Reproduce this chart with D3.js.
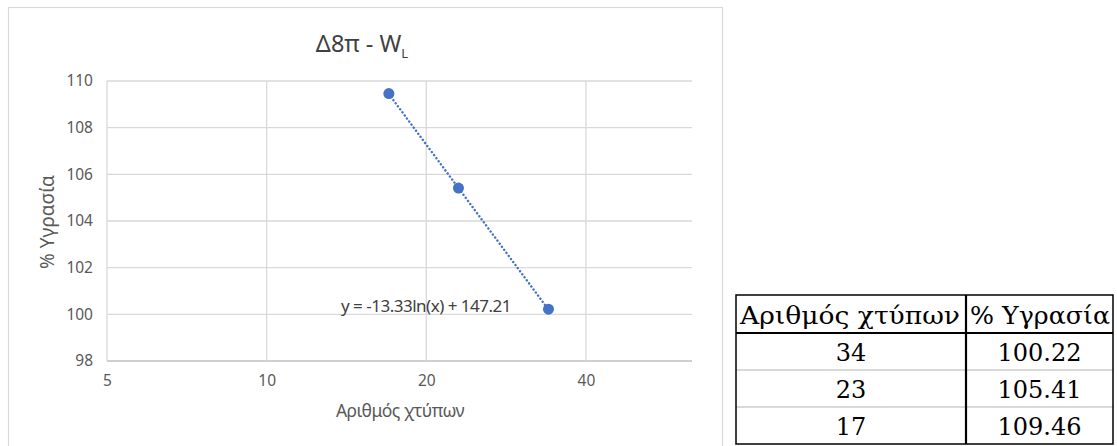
<!DOCTYPE html>
<html lang="el">
<head>
<meta charset="utf-8">
<title>Δ8π - WL</title>
<script src="https://d3js.org/d3.v7.min.js"></script>
<style>
  body { margin: 0; background: #fff; }
  svg text { font-family: "Noto Sans", "DejaVu Sans", sans-serif; }
  .tbl text { font-family: "DejaVu Serif", "Liberation Serif", serif; }
</style>
</head>
<body>
<script>
// data
var blows = [34, 23, 17];
var moisture = [100.22, 105.41, 109.46];
var xTicks = [5, 10, 20, 40];
var yTicks = [98, 100, 102, 104, 106, 108, 110];
var trendCoef = [-13.33, 147.21];   // y = a ln(x) + b
var tableHeader = ["Αριθμός χτύπων", "% Υγρασία"];

var W = 1117, H = 446;
var svg = d3.select("body").append("svg").attr("width", W).attr("height", H);

// chart frame
svg.append("rect")
  .attr("x", 8.5).attr("y", 7.5).attr("width", 714).attr("height", 450)
  .attr("fill", "#fff").attr("stroke", "#d9d9d9").attr("stroke-width", 1.2);

var x = d3.scaleLog().base(2).domain([5, 63.4]).range([107, 692]);
var y = d3.scaleLinear().domain([98, 110]).range([361, 81]);

// gridlines
svg.append("g").selectAll("line").data(yTicks).join("line")
  .attr("x1", x.range()[0]).attr("x2", x.range()[1])
  .attr("y1", d => y(d)).attr("y2", d => y(d))
  .attr("stroke", d => d === 98 ? "#bfbfbf" : "#d9d9d9").attr("stroke-width", 1.3);
svg.append("g").selectAll("line").data(xTicks).join("line")
  .attr("x1", d => x(d)).attr("x2", d => x(d))
  .attr("y1", y(110)).attr("y2", y(98))
  .attr("stroke", "#d9d9d9").attr("stroke-width", 1.3);

// axes labels
var yAxis = d3.axisLeft(y).tickValues(yTicks).tickSize(0).tickPadding(14);
var gy = svg.append("g").attr("transform", `translate(${x.range()[0]},0)`).call(yAxis);
var xAxis = d3.axisBottom(x).tickValues(xTicks).tickFormat(d3.format("d")).tickSize(0).tickPadding(14);
var gx = svg.append("g").attr("transform", `translate(0,${y(98)})`).call(xAxis);
[gx, gy].forEach(g => {
  g.select(".domain").remove();
  g.selectAll("text").attr("fill", "#595959").style("font-size", "15.5px")
    .style("font-family", '"Noto Sans", sans-serif');
});

// titles
var title = svg.append("text").attr("x", 362).attr("y", 52)
  .attr("text-anchor", "middle").attr("fill", "#404040").style("font-size", "23.5px");
title.append("tspan").text("Δ8π - W");
title.append("tspan").attr("dy", 6).style("font-size", "13px").text("L");

svg.append("text").attr("x", 400).attr("y", 417).attr("text-anchor", "middle")
  .attr("fill", "#595959").style("font-size", "17.5px").style("letter-spacing", "-0.5px")
  .text("Αριθμός χτύπων");
svg.append("text").attr("transform", "translate(54,222) rotate(-90)")
  .attr("text-anchor", "middle").attr("fill", "#595959").style("font-size", "19px")
  .text("% Υγρασία");

// trendline
var xs = d3.extent(blows);
var samples = d3.range(0, 41).map(i => xs[0] * Math.pow(xs[1] / xs[0], i / 40));
var line = d3.line().x(d => x(d)).y(d => y(trendCoef[0] * Math.log(d) + trendCoef[1]));
svg.append("path").datum(samples).attr("d", line)
  .attr("fill", "none").attr("stroke", "#4472c4").attr("stroke-width", 2.4)
  .attr("stroke-linecap", "round").attr("stroke-dasharray", "0.1 3.7");

svg.append("text").attr("x", 341).attr("y", 312).attr("fill", "#404040")
  .style("font-size", "17px").style("letter-spacing", "-0.5px")
  .text(`y = ${trendCoef[0]}ln(x) + ${trendCoef[1]}`);

// points
svg.append("g").selectAll("circle").data(blows).join("circle")
  .attr("cx", d => x(d)).attr("cy", (d, i) => y(moisture[i])).attr("r", 5.5)
  .attr("fill", "#4472c4");

// table
var tbl = svg.append("g").attr("class", "tbl");
var colX = [736, 966, 1113];
var rowY = [295, 333, 370, 407, 444];
for (var r = 1; r < 4; r++) {
  tbl.append("line").attr("x1", colX[0]).attr("x2", colX[2]).attr("y1", rowY[r]).attr("y2", rowY[r])
    .attr("stroke", r === 1 ? "#000" : "#d9d9d9").attr("stroke-width", 2);
}
tbl.append("line").attr("x1", colX[1]).attr("x2", colX[1]).attr("y1", rowY[0]).attr("y2", rowY[4])
  .attr("stroke", "#000").attr("stroke-width", 2.2);
tbl.append("rect").attr("x", colX[0]).attr("y", rowY[0])
  .attr("width", colX[2] - colX[0]).attr("height", rowY[4] - rowY[0])
  .attr("fill", "none").attr("stroke", "#000").attr("stroke-width", 1.5);

tableHeader.forEach((h, c) => {
  tbl.append("text").attr("x", colX[c] + 4).attr("y", rowY[0] + 29)
    .attr("textLength", c === 0 ? 220 : 140).attr("lengthAdjust", "spacingAndGlyphs")
    .style("font-size", "24px").attr("fill", "#000").text(h);
});
blows.forEach((b, i) => {
  var cells = [b, moisture[i].toFixed(2)];
  cells.forEach((v, c) => {
    tbl.append("text").attr("x", (colX[c] + colX[c + 1]) / 2).attr("y", rowY[i + 1] + 28)
      .attr("text-anchor", "middle").style("font-size", "24px").attr("fill", "#000").text(v);
  });
});
</script>
</body>
</html>
